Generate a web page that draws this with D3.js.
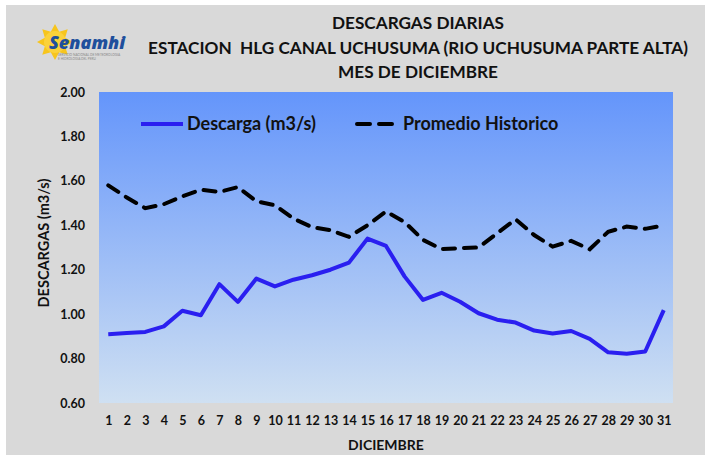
<!DOCTYPE html>
<html>
<head>
<meta charset="utf-8">
<script src="https://cdn.jsdelivr.net/npm/d3@7"></script>
<style>
  body { margin: 0; background: #fff; }
  svg { display: block; }
  text { font-family: Lato, "Open Sans", sans-serif; font-weight: bold; }
</style>
</head>
<body>
<svg id="chart" width="705" height="457"></svg>
<script>
// Data
const days = d3.range(1, 32).map(String);
const descarga = [0.91, 0.915, 0.92, 0.945, 1.015, 0.995, 1.135, 1.055, 1.16, 1.125,
  1.155, 1.175, 1.20, 1.232, 1.34, 1.307, 1.17, 1.064, 1.096, 1.056,
  1.004, 0.975, 0.962, 0.926, 0.913, 0.924, 0.889, 0.828, 0.822, 0.832, 1.018];
const promedio = [1.58, 1.525, 1.477, 1.495, 1.53, 1.56, 1.55, 1.572, 1.508, 1.49,
  1.43, 1.392, 1.378, 1.348, 1.40, 1.462, 1.415, 1.334, 1.293, 1.297,
  1.30, 1.364, 1.427, 1.356, 1.304, 1.33, 1.292, 1.371, 1.394, 1.384, 1.40];
const yTicks = [0.6, 0.8, 1.0, 1.2, 1.4, 1.6, 1.8, 2.0];
const titles = ['DESCARGAS DIARIAS',
  'ESTACION  HLG CANAL UCHUSUMA (RIO UCHUSUMA PARTE ALTA)',
  'MES DE DICIEMBRE'];

const svg = d3.select('#chart');
const plot = { left: 99, right: 673, top: 92, bottom: 403 };

// Grey chart background
svg.append('rect').attr('x', 6).attr('y', 5).attr('width', 699).attr('height', 450)
  .attr('fill', '#d9d9d9');

// Plot gradient
const defs = svg.append('defs');
const grad = defs.append('linearGradient').attr('id', 'bg')
  .attr('x1', 0).attr('y1', 0).attr('x2', 0).attr('y2', 1);
grad.append('stop').attr('offset', '0%').attr('stop-color', '#6495fb');
grad.append('stop').attr('offset', '100%').attr('stop-color', '#cfe0f2');

svg.append('rect')
  .attr('x', plot.left).attr('y', plot.top)
  .attr('width', plot.right - plot.left).attr('height', plot.bottom - plot.top)
  .attr('fill', 'url(#bg)');

const x = d3.scalePoint().domain(days)
  .range([plot.left, plot.right]).padding(0.5);
const y = d3.scaleLinear().domain([0.6, 2.0]).range([plot.bottom, plot.top]);

// Y axis labels
const yAxis = svg.append('g')
  .attr('transform', `translate(${plot.left},0)`)
  .call(d3.axisLeft(y).tickValues(yTicks).tickFormat(d3.format('.2f')).tickSize(0).tickPadding(14));
yAxis.select('.domain').remove();
yAxis.selectAll('text').attr('font-size', 12.5).attr('fill', '#111')
  .style('font-family', 'Lato, sans-serif').style('font-weight', 'bold');

// X axis labels
const xAxis = svg.append('g')
  .attr('transform', `translate(0,${plot.bottom})`)
  .call(d3.axisBottom(x).tickSize(0).tickPadding(13));
xAxis.select('.domain').remove();
xAxis.selectAll('text').attr('font-size', 12.5).attr('fill', '#111')
  .style('font-family', 'Lato, sans-serif').style('font-weight', 'bold');

// Lines
const line = d3.line().x((d, i) => x(days[i])).y(d => y(d));

svg.append('path').datum(promedio)
  .attr('d', line).attr('fill', 'none')
  .attr('stroke', '#000').attr('stroke-width', 4)
  .attr('stroke-dasharray', '12 9').attr('stroke-linecap', 'round');

svg.append('path').datum(descarga)
  .attr('d', line).attr('fill', 'none')
  .attr('stroke', '#2a1ff0').attr('stroke-width', 4)
  .attr('stroke-linejoin', 'round');

// Legend
const lg = svg.append('g');
lg.append('line').attr('x1', 141).attr('x2', 183).attr('y1', 124).attr('y2', 124)
  .attr('stroke', '#2a1ff0').attr('stroke-width', 4);
lg.append('text').attr('x', 187).attr('y', 130).attr('font-size', 18).attr('fill', '#111')
  .text('Descarga (m3/s)');
lg.append('line').attr('x1', 357).attr('x2', 400).attr('y1', 124).attr('y2', 124)
  .attr('stroke', '#000').attr('stroke-width', 4)
  .attr('stroke-dasharray', '13 9').attr('stroke-linecap', 'round');
lg.append('text').attr('x', 403).attr('y', 130).attr('font-size', 18).attr('fill', '#111')
  .text('Promedio Historico');

// Titles
svg.selectAll('.title').data(titles).enter().append('text')
  .attr('class', 'title')
  .attr('x', 418).attr('y', (d, i) => 29 + i * 24.5)
  .attr('text-anchor', 'middle').attr('font-size', 17.2).attr('fill', '#111')
  .style('white-space', 'pre')
  .text(d => d);

// Axis titles
svg.append('text').attr('x', 386).attr('y', 450).attr('text-anchor', 'middle')
  .attr('font-size', 14).attr('fill', '#111').text('DICIEMBRE');
svg.append('text').attr('transform', 'translate(49,243) rotate(-90)')
  .attr('text-anchor', 'middle').attr('font-size', 14.5).attr('fill', '#111')
  .text('DESCARGAS (m3/s)');

// Senamhi logo (sun + wordmark)
const logo = svg.append('g').attr('transform', 'translate(55,42)');
const rays = d3.range(16).map(i => {
  const a = i / 16 * 2 * Math.PI, r = i % 2 ? 11 : 18;
  return [Math.cos(a) * r, Math.sin(a) * r];
});
logo.append('polygon').attr('points', rays.map(p => p.join(',')).join(' '))
  .attr('fill', '#f7c51d');
logo.append('circle').attr('r', 11).attr('fill', '#fbd23a');
logo.append('text').attr('x', -6).attr('y', 7).attr('font-size', 18)
  .attr('font-style', 'italic').attr('fill', '#1e4f9c')
  .style('font-family', 'Open Sans, sans-serif').style('font-weight', 800)
  .text('Senamhi');
logo.append('text').attr('x', 3).attr('y', 14).attr('font-size', 3.2)
  .attr('fill', '#888').style('font-weight', 'normal')
  .text('SERVICIO NACIONAL DE METEOROLOGIA');
logo.append('text').attr('x', 3).attr('y', 18).attr('font-size', 3.2)
  .attr('fill', '#888').style('font-weight', 'normal')
  .text('E HIDROLOGIA DEL PERU');
</script>
</body>
</html>
